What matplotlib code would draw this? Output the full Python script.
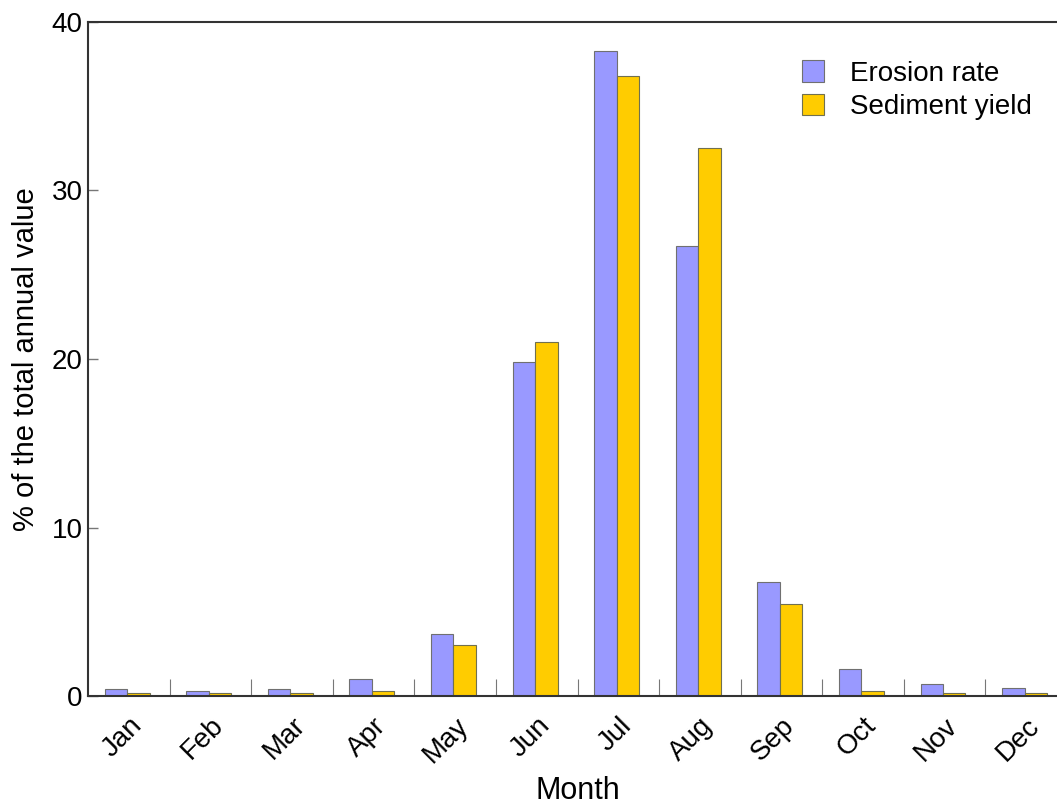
import matplotlib
matplotlib.use('Agg')
from matplotlib import pyplot as plt
import numpy as np

plt.rcParams['font.family'] = ['Liberation Sans', 'DejaVu Sans']

months = ['Jan', 'Feb', 'Mar', 'Apr', 'May', 'Jun',
          'Jul', 'Aug', 'Sep', 'Oct', 'Nov', 'Dec']
erosion = [0.4, 0.3, 0.4, 1.0, 3.7, 19.8, 38.3, 26.7, 6.75, 1.6, 0.7, 0.45]
sediment = [0.2, 0.2, 0.2, 0.3, 3.0, 21.0, 36.8, 32.5, 5.45, 0.3, 0.2, 0.2]

fig = plt.figure(figsize=(10.57, 8.08), dpi=100)
# axes run slightly past the right edge of the figure
ax = fig.add_axes([88/1057, 112/808, 979/1057, 674/808])

x = np.arange(len(months)) + 0.5
w = 0.275
ax.bar(x - w/2 - 0.02, erosion, w, color='#9999ff', edgecolor='#707070',
       linewidth=0.8, label='Erosion rate')
ax.bar(x + w/2 - 0.02, sediment, w, color='#ffcc00', edgecolor='#707050',
       linewidth=0.8, label='Sediment yield')

ax.set_xlim(0, 12)
ax.set_ylim(0, 40)
ax.set_yticks([0, 10, 20, 30, 40])
ax.set_xticks(x)
ax.set_xticklabels(months, rotation=45, ha='right', rotation_mode='anchor')
ax.set_xticks(np.arange(1, 12), minor=True)
ax.tick_params(axis='x', which='major', length=0, labelsize=20, pad=12)
ax.tick_params(axis='x', which='minor', direction='in', length=12,
               width=0.8, color='#777777')
ax.tick_params(axis='y', direction='in', length=7, width=1, color='#777777',
               labelsize=20, pad=4)

for s in ['left', 'bottom', 'top', 'right']:
    ax.spines[s].set_linewidth(1.5)
    ax.spines[s].set_color('#333333')

ax.set_xlabel('Month', fontsize=22, labelpad=6)
ax.set_ylabel('% of the total annual value', fontsize=21, labelpad=8)

ax.legend(loc='upper right', bbox_to_anchor=(0.99, 0.98), frameon=False,
          fontsize=20, handlelength=0.8, handleheight=0.8, handletextpad=0.95,
          labelspacing=0.25)

plt.savefig('out.png')
